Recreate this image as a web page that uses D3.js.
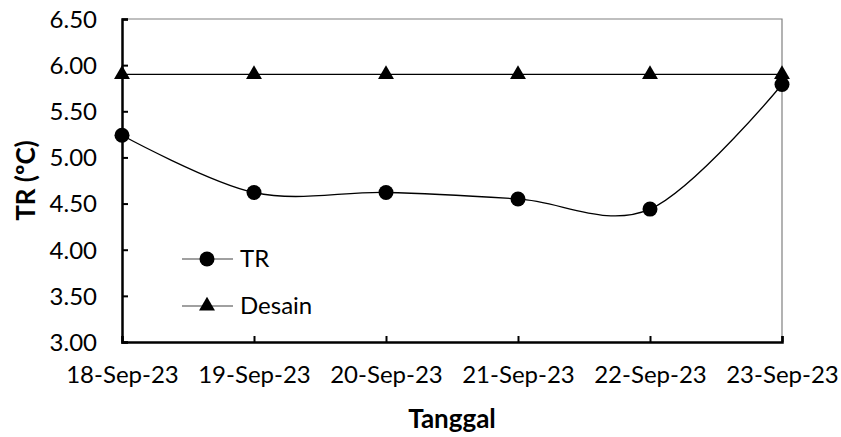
<!DOCTYPE html>
<html><head><meta charset="utf-8">
<script src="https://cdn.jsdelivr.net/npm/d3@7"></script>
<style>body{margin:0;background:#fff}</style>
</head><body><svg id="c" width="841" height="437"></svg>
<script>
const categories = ["18-Sep-23","19-Sep-23","20-Sep-23","21-Sep-23","22-Sep-23","23-Sep-23"];
const trValues = [5.24, 4.62, 4.62, 4.55, 4.44, 5.79];
const desainValues = [5.90, 5.90, 5.90, 5.90, 5.90, 5.90];
const yTicks = [3.00, 3.50, 4.00, 4.50, 5.00, 5.50, 6.00, 6.50];

const svg = d3.select("#c");
const font = "Lato, 'Open Sans', sans-serif";
const L = 122, R = 782, T = 19, B = 342;
const x = d3.scalePoint().domain(categories).range([L, R]);
const y = d3.scaleLinear().domain([3, 6.5]).range([B, T]);

// top/right borders
svg.append("path").attr("d", `M${L},${T}H${R}V${B}`).attr("fill","none").attr("stroke","#808080").attr("stroke-width",1.2);

// axes
const yAxis = d3.axisLeft(y).tickValues(yTicks).tickSize(-6).tickPadding(25).tickFormat(d3.format(".2f"));
const gy = svg.append("g").attr("transform",`translate(${L},0)`).call(yAxis);
const xAxis = d3.axisBottom(x).tickSize(-6).tickPadding(24);
const gx = svg.append("g").attr("transform",`translate(0,${B})`).call(xAxis);
[gy,gx].forEach(g=>{
  g.select(".domain").attr("stroke","#000").attr("stroke-width",2.5);
  g.selectAll(".tick line").attr("stroke","#000").attr("stroke-width",2);
  g.selectAll("text").attr("font-family",font).attr("font-size",24).attr("fill","#000");
});
gy.selectAll("text").attr("dy","0.35em");

// lines
const lineSmooth = d3.line().x((d,i)=>x(categories[i])).y(d=>y(d)).curve(d3.curveCatmullRom.alpha(0));
const lineStraight = d3.line().x((d,i)=>x(categories[i])).y(d=>y(d));
svg.append("path").attr("d", lineStraight(desainValues)).attr("fill","none").attr("stroke","#000").attr("stroke-width",1.3);
svg.append("path").attr("d", lineSmooth(trValues)).attr("fill","none").attr("stroke","#000").attr("stroke-width",1.3);

const tri = d3.symbol().type(d3.symbolTriangle).size(110);
svg.selectAll(".tri").data(desainValues).join("path")
  .attr("transform",(d,i)=>`translate(${x(categories[i])},${y(d)})`).attr("d",tri).attr("fill","#000");
svg.selectAll(".dot").data(trValues).join("circle")
  .attr("cx",(d,i)=>x(categories[i])).attr("cy",d=>y(d)).attr("r",7.5).attr("fill","#000");

// legend
const legend = [{name:"TR",type:"circle",yy:259},{name:"Desain",type:"tri",yy:306}];
legend.forEach(l=>{
  svg.append("line").attr("x1",182).attr("x2",233).attr("y1",l.yy).attr("y2",l.yy).attr("stroke","#808080").attr("stroke-width",1.3);
  if(l.type==="circle") svg.append("circle").attr("cx",207).attr("cy",l.yy).attr("r",7.5).attr("fill","#000");
  else svg.append("path").attr("transform",`translate(207,${l.yy})`).attr("d",tri).attr("fill","#000");
  svg.append("text").attr("x",240).attr("y",l.yy).attr("dy","0.35em").attr("font-family",font).attr("font-size",24).text(l.name);
});

// titles
svg.append("text").attr("x",(L+R)/2).attr("y",428).attr("text-anchor","middle").attr("font-family",font).attr("font-weight","bold").attr("font-size",26).text("Tanggal");
svg.append("text").attr("transform",`translate(35,${(T+B)/2}) rotate(-90)`).attr("text-anchor","middle").attr("font-family",font).attr("font-weight","bold").attr("font-size",26).text("TR (ºC)");
</script></body></html>
